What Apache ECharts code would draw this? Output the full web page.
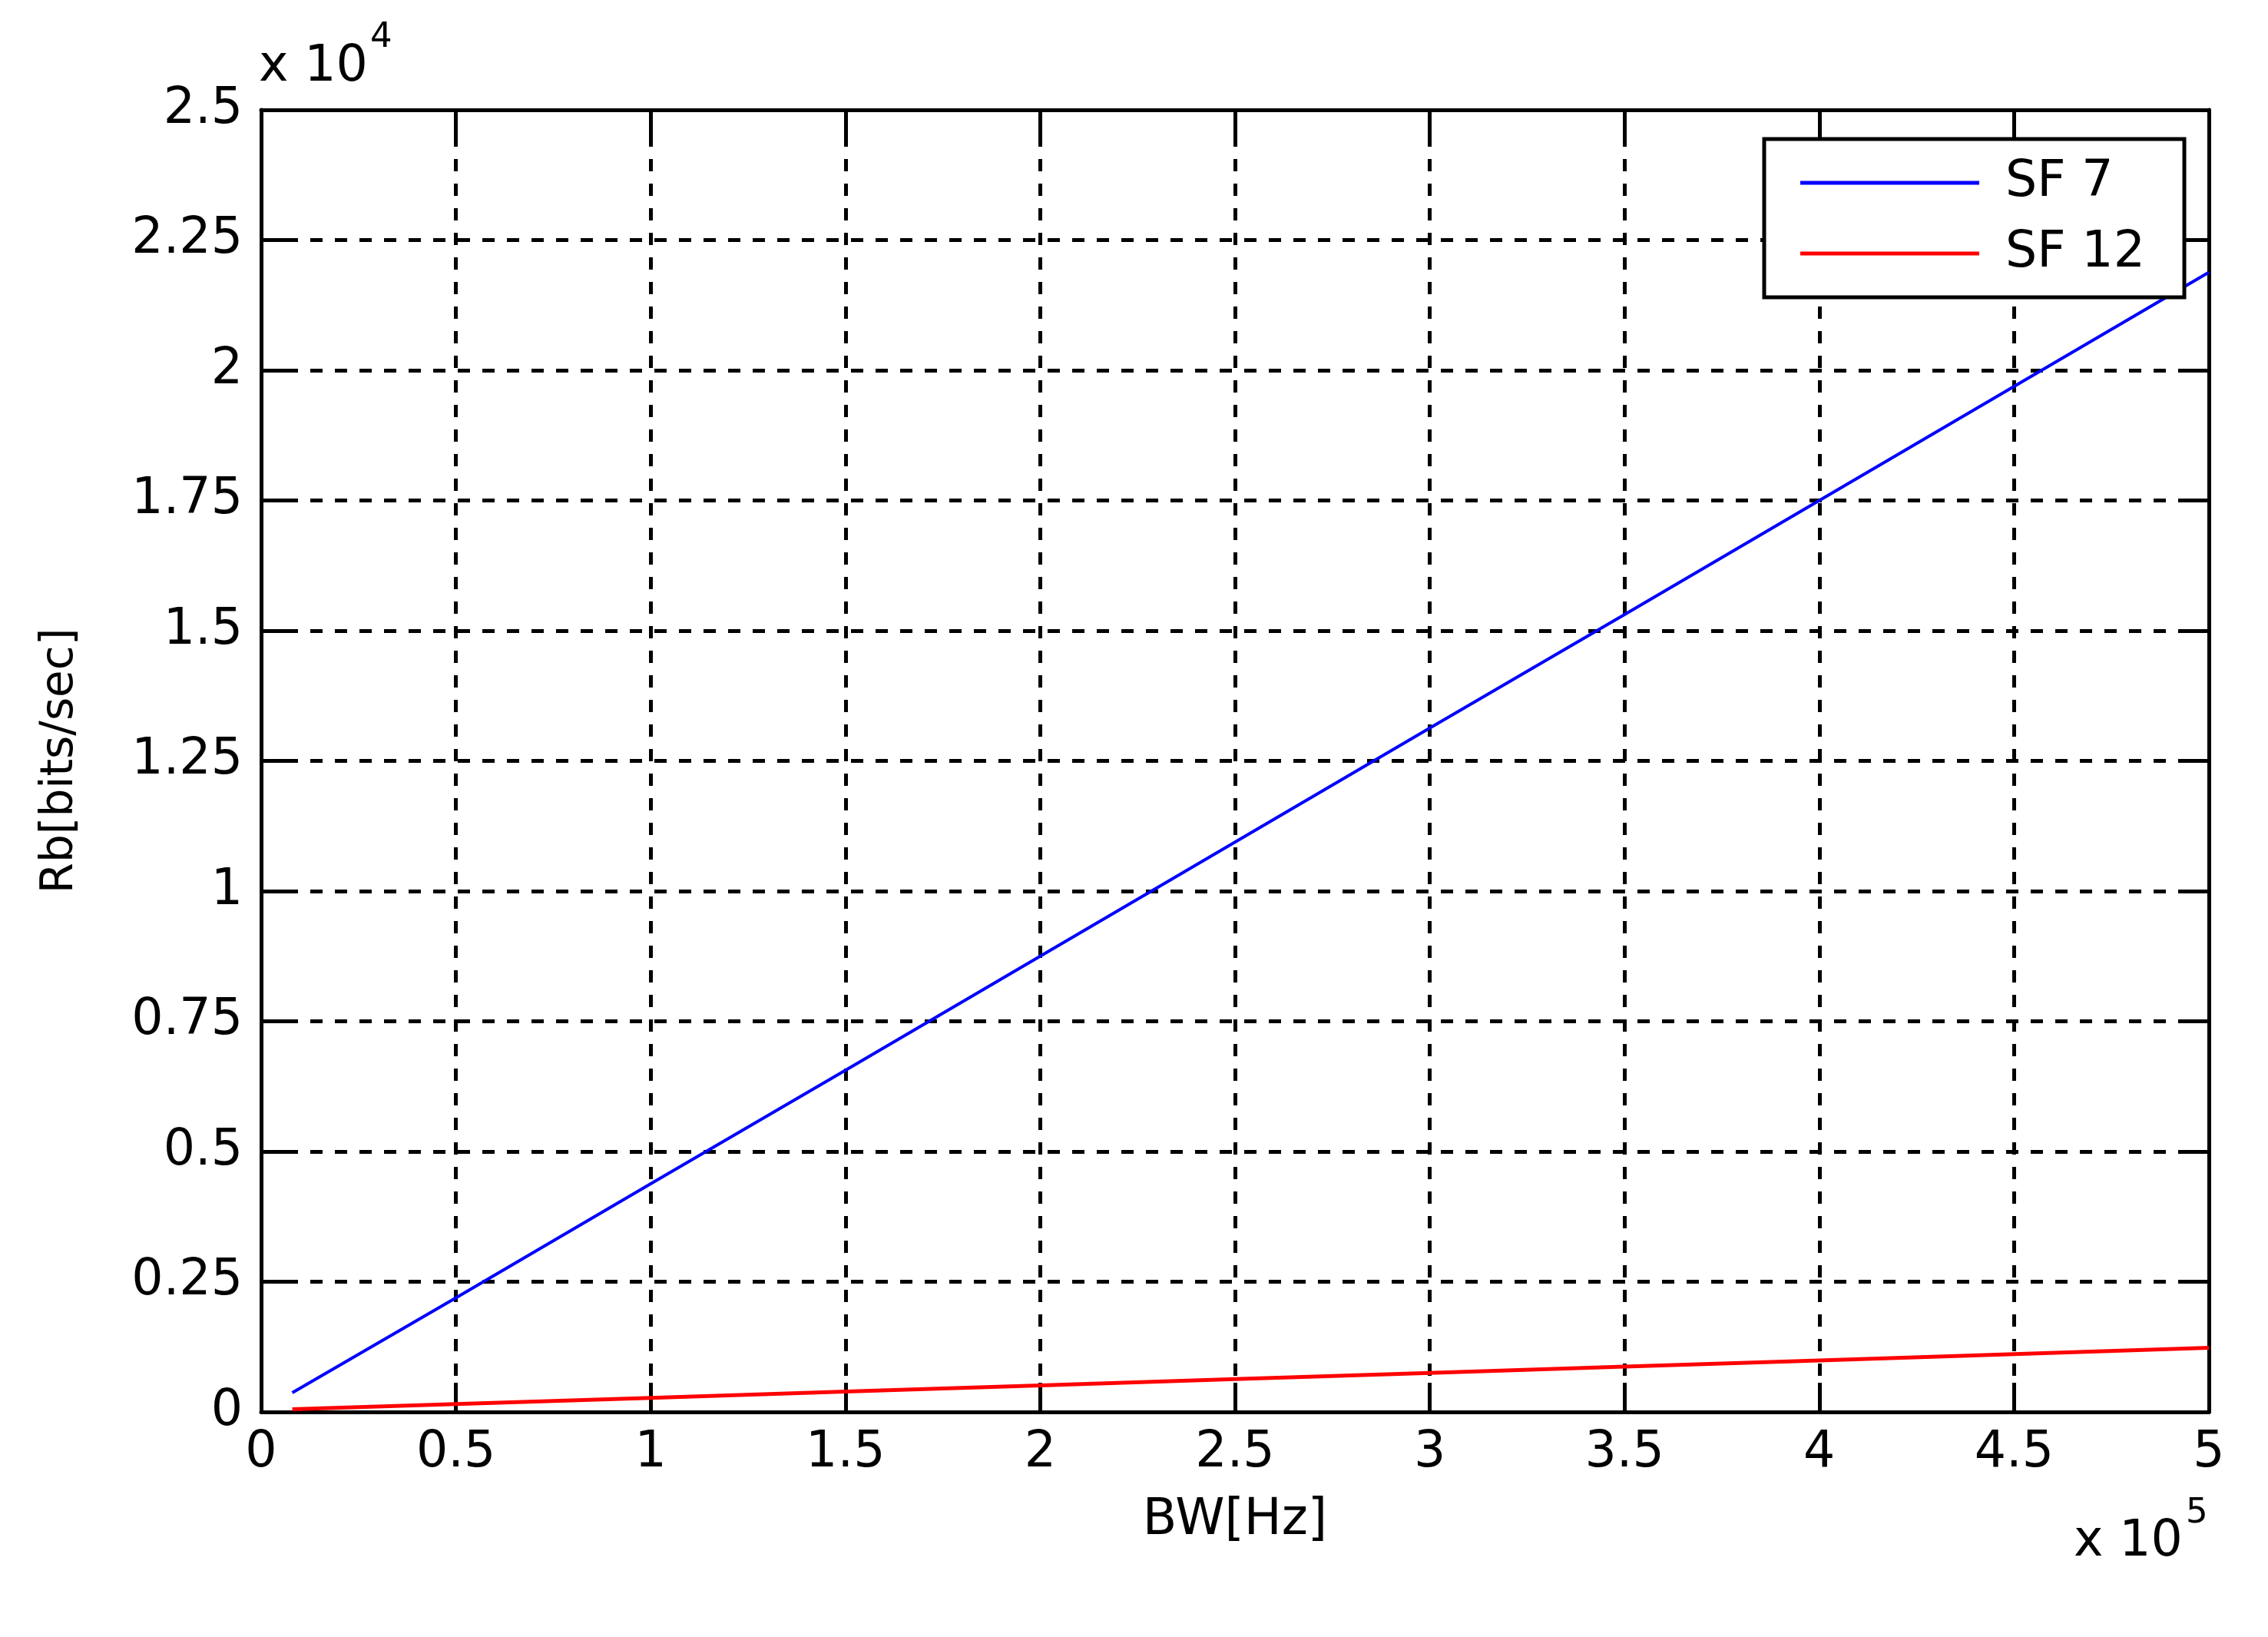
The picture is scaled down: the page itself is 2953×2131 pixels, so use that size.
<!DOCTYPE html>
<html>
<head>
<meta charset="utf-8">
<script src="https://cdn.jsdelivr.net/npm/echarts@6/dist/echarts.min.js"></script>
<style>
html,body{margin:0;padding:0;background:#fff;}
#c{width:2953px;height:2131px;}
</style>
</head>
<body>
<div id="c"></div>
<script>
// Bandwidth [Hz]
const bw = [8000, 50000, 100000, 150000, 200000, 250000, 300000, 350000, 400000, 450000, 500000];
// Bit rate [bits/sec]
const sf7 = [370, 2190, 4380, 6560, 8750, 10940, 13130, 15310, 17500, 19690, 21880];
const sf12 = [50, 150, 270, 390, 510, 630, 750, 870, 990, 1110, 1230];
const seriesNames = ['SF 7', 'SF 12'];
const xTickLabels = ['0','0.5','1','1.5','2','2.5','3','3.5','4','4.5','5'];
const yTickLabels = ['0','0.25','0.5','0.75','1','1.25','1.5','1.75','2','2.25','2.5'];

const FONT = 'DejaVu Sans';
const chart = echarts.init(document.getElementById('c'), null, {renderer: 'canvas'});

function gridLine() { return {show: true, lineStyle: {color: '#000', width: 5, type: [16, 16]}}; }
function axLine() { return {show: true, onZero: false, lineStyle: {color: '#000', width: 5}}; }
function tick() { return {show: true, inside: true, length: 38, lineStyle: {color: '#000', width: 5}}; }

const option = {
  backgroundColor: '#fff',
  animation: false,
  grid: {left: 340, right: 77, top: 143, bottom: 293, containLabel: false},
  legend: {
    data: seriesNames,
    orient: 'vertical',
    left: 2297,
    top: 181,
    padding: [22, 51, 22, 47],
    itemGap: 22,
    itemWidth: 233,
    itemHeight: 5,
    icon: 'rect',
    selectedMode: false,
    backgroundColor: '#fff',
    borderColor: '#000',
    borderWidth: 5,
    textStyle: {fontFamily: FONT, fontSize: 65, color: '#000', lineHeight: 70, padding: [0, 0, 0, 29]}
  },
  xAxis: [{
    type: 'value', min: 0, max: 500000, interval: 50000, position: 'bottom',
    name: 'BW[Hz]', nameLocation: 'middle', nameGap: 110,
    nameTextStyle: {fontFamily: FONT, fontSize: 65, color: '#000'},
    axisLine: axLine(), axisTick: tick(), splitLine: gridLine(),
    axisLabel: {fontFamily: FONT, fontSize: 65, color: '#000', margin: 22,
      formatter: (v) => xTickLabels[Math.round(v / 50000)]}
  }, {
    type: 'value', min: 0, max: 500000, interval: 50000, position: 'top',
    axisLine: axLine(), axisTick: tick(), splitLine: {show: false}, axisLabel: {show: false}
  }],
  yAxis: [{
    type: 'value', min: 0, max: 25000, interval: 2500, position: 'left',
    name: 'Rb[bits/sec]', nameLocation: 'middle', nameGap: 232, nameRotate: 90,
    nameTextStyle: {fontFamily: FONT, fontSize: 58, color: '#000'},
    axisLine: axLine(), axisTick: tick(), splitLine: gridLine(),
    axisLabel: {fontFamily: FONT, fontSize: 65, color: '#000', margin: 24,
      formatter: (v) => yTickLabels[Math.round(v / 2500)]}
  }, {
    type: 'value', min: 0, max: 25000, interval: 2500, position: 'right',
    axisLine: axLine(), axisTick: tick(), splitLine: {show: false}, axisLabel: {show: false}
  }],
  series: [{
    name: seriesNames[0], type: 'line', xAxisIndex: 0, yAxisIndex: 0,
    data: bw.map((x, i) => [x, sf7[i]]),
    showSymbol: false, symbol: 'none',
    lineStyle: {color: '#0000ff', width: 4}, itemStyle: {color: '#0000ff'}
  }, {
    name: seriesNames[1], type: 'line', xAxisIndex: 0, yAxisIndex: 0,
    data: bw.map((x, i) => [x, sf12[i]]),
    showSymbol: false, symbol: 'none',
    lineStyle: {color: '#ff0000', width: 5}, itemStyle: {color: '#ff0000'}
  }],
  graphic: [
    {type: 'text', left: 337, top: 56, style: {text: 'x 10', font: '65px "DejaVu Sans"', fill: '#000'}},
    {type: 'text', left: 482, top: 27, style: {text: '4', font: '45px "DejaVu Sans"', fill: '#000'}},
    {type: 'text', left: 2700, top: 1976, style: {text: 'x 10', font: '65px "DejaVu Sans"', fill: '#000'}},
    {type: 'text', left: 2846, top: 1948, style: {text: '5', font: '45px "DejaVu Sans"', fill: '#000'}}
  ]
};
chart.setOption(option);
</script>
</body>
</html>
